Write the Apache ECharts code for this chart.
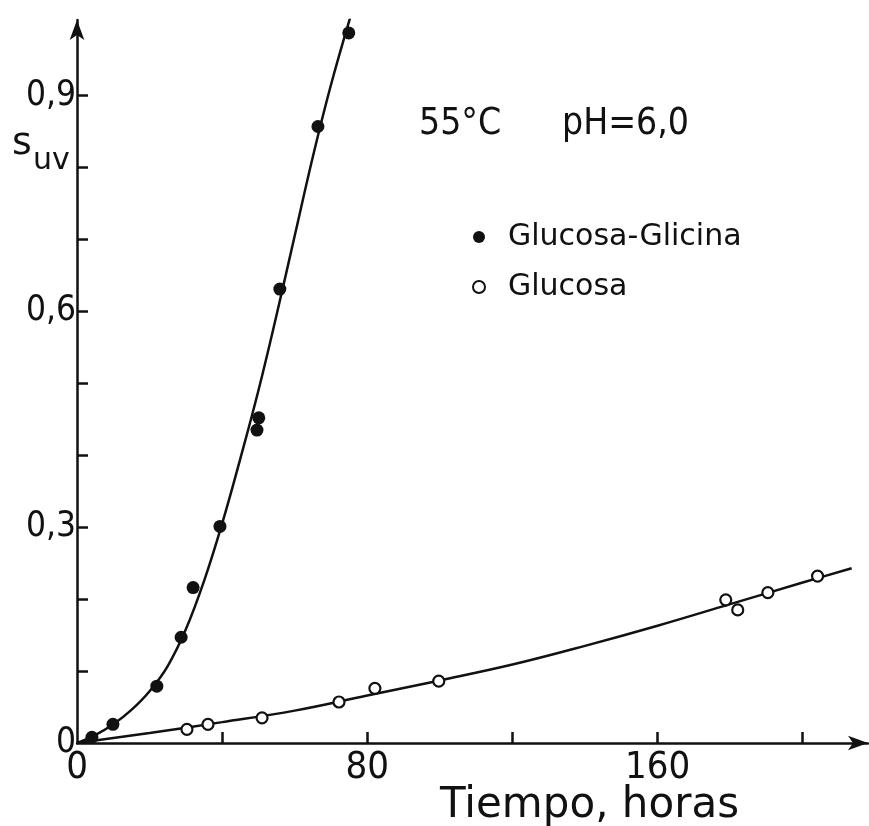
<!DOCTYPE html>
<html>
<head>
<meta charset="utf-8">
<script src="https://cdn.jsdelivr.net/npm/echarts@6/dist/echarts.min.js"></script>
<style>
html,body{margin:0;padding:0;background:#fff;}
#chart{width:869px;height:826px;}
</style>
</head>
<body>
<div id="chart"></div>
<script>
// Measured points: Glucosa-Glicina (filled) [hours, s_uv]
var glicinaPoints = [[4.1,0.008],[9.9,0.026],[22.0,0.079],[28.7,0.147],[32.0,0.216],[39.4,0.301],[49.6,0.435],[50.1,0.452],[55.9,0.631],[66.4,0.857],[74.9,0.987]];
// Measured points: Glucosa (open)
var glucosaPoints = [[30.3,0.019],[36.1,0.026],[51.0,0.035],[72.2,0.057],[82.1,0.076],[99.7,0.086],[178.8,0.199],[182.1,0.185],[190.4,0.209],[204.1,0.232]];
// Hand-drawn fitted curves
var glicinaCurve = [[0,0],[5,0.011],[10,0.026],[15,0.046],[20,0.072],[25,0.107],[30,0.158],[35,0.225],[40,0.305],[45,0.395],[50,0.49],[55,0.595],[60,0.705],[65,0.815],[70,0.915],[75.8,1.017]];
var glucosaCurve = [[0,0],[20,0.014],[40,0.029],[60,0.045],[80,0.066],[100,0.087],[120,0.109],[140,0.135],[160,0.163],[180,0.193],[200,0.223],[213.5,0.243]];
// Axis ticks and labels
var xTicks = [40,80,120,160,200];
var xLabels = [0,80,160];
var yTicks = [0.1,0.2,0.3,0.4,0.5,0.6,0.7,0.8,0.9];
var yLabels = [0,0.3,0.6,0.9];

var COND = "'DejaVu Sans Condensed','DejaVu Sans',sans-serif";
var FONT = "'DejaVu Sans',sans-serif";
var INK = '#111';

var chart = echarts.init(document.getElementById('chart'), null, {renderer:'canvas'});
chart.setOption({
  backgroundColor:'#fff',
  animation:false,
  grid:{left:77, right:1, top:20, bottom:83, containLabel:false},
  xAxis:{
    type:'value', min:0, max:218,
    axisLine:{show:true, lineStyle:{color:INK, width:2.5}, symbol:['none','arrow'], symbolSize:[11,20]},
    axisTick:{show:true, inside:true, length:11, lineStyle:{color:INK, width:2.5}, customValues:xTicks},
    axisLabel:{show:true, customValues:xLabels, fontFamily:COND, fontSize:38, color:INK, margin:6,
      formatter:function(v){return String(v);}},
    splitLine:{show:false}
  },
  yAxis:{
    type:'value', min:0, max:1.005,
    axisLine:{show:true, lineStyle:{color:INK, width:2.5}, symbol:['none','arrow'], symbolSize:[11,20]},
    axisTick:{show:true, inside:true, length:11, lineStyle:{color:INK, width:2.5}, customValues:yTicks},
    axisLabel:{show:true, customValues:yLabels, fontFamily:COND, fontSize:35, color:INK, margin:1,
      formatter:function(v){return v===0?'0':v.toFixed(1).replace('.',',');}},
    splitLine:{show:false}
  },
  legend:{
    show:true, orient:'vertical', left:467, top:217, itemGap:20,
    data:['Glucosa-Glicina','Glucosa'],
    itemWidth:12, itemHeight:12,
    textStyle:{fontFamily:FONT, fontSize:30, color:INK, padding:[0,0,0,18]},
    selectedMode:false
  },
  graphic:[
    {type:'text', left:419, top:106, style:{text:'55°C', font:"37px "+COND, fill:INK}},
    {type:'text', left:562, top:106, style:{text:'pH=6,0', font:"37px "+COND, fill:INK}},
    {type:'text', left:12, top:125, style:{text:'s', font:"38px "+FONT, fill:INK}},
    {type:'text', left:33, top:146, style:{text:'uv', font:"30px "+FONT, fill:INK}},
    {type:'text', left:440, top:785, style:{text:'Tiempo, horas', font:"42px "+FONT, fill:INK}}
  ],
  series:[
    {name:'curveGlicina', type:'line', data:glicinaCurve, smooth:0.4, showSymbol:false, symbol:'none',
      lineStyle:{color:INK, width:2.5}, silent:true, z:2},
    {name:'curveGlucosa', type:'line', data:glucosaCurve, smooth:0.4, showSymbol:false, symbol:'none',
      lineStyle:{color:INK, width:2.5}, silent:true, z:2},
    {name:'Glucosa-Glicina', type:'scatter', data:glicinaPoints, symbol:'circle', symbolSize:13,
      itemStyle:{color:INK, opacity:1}, z:3},
    {name:'Glucosa', type:'scatter', data:glucosaPoints, symbol:'circle', symbolSize:11,
      itemStyle:{color:'#fff', borderColor:INK, borderWidth:2.2, opacity:1}, z:3}
  ]
});
</script>
</body>
</html>
